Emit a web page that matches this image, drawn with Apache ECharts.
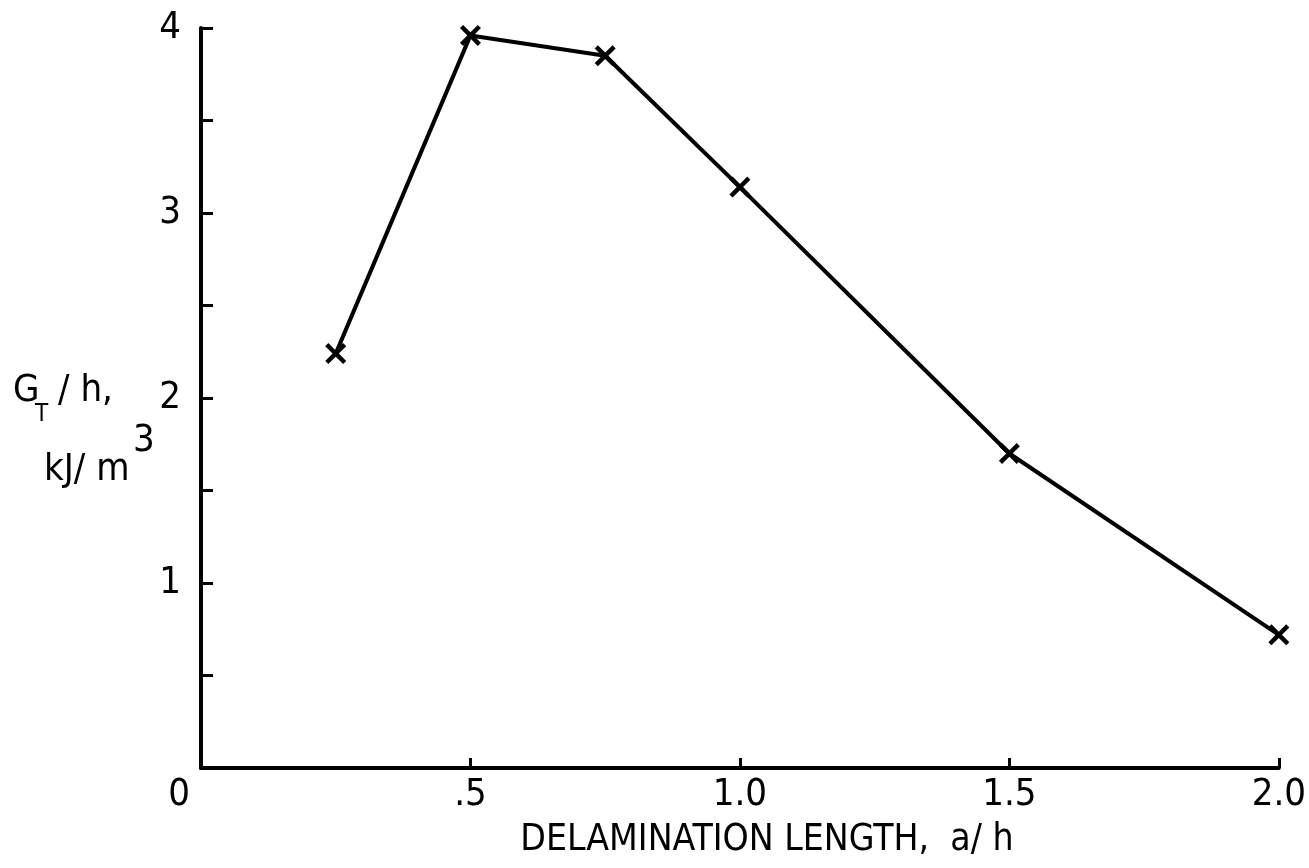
<!DOCTYPE html>
<html>
<head>
<meta charset="utf-8">
<script src="https://cdn.jsdelivr.net/npm/echarts@6/dist/echarts.min.js"></script>
<style>
html,body{margin:0;padding:0;background:#fff;}
#c{width:1309px;height:868px;}
</style>
</head>
<body>
<div id="c"></div>
<script>
const xValues = [0.25, 0.5, 0.75, 1.0, 1.5, 2.0];
const yValues = [2.24, 3.96, 3.85, 3.14, 1.70, 0.72];
const xTickLabels = {0: '0', 0.5: '.5', 1: '1.0', 1.5: '1.5', 2: '2.0'};
const yTickLabels = {1: '1', 2: '2', 3: '3', 4: '4'};
const xTitle = 'DELAMINATION LENGTH,  a/ h';

const FONT = '"Liberation Sans Narrow", "DejaVu Sans Condensed", sans-serif';
const chart = echarts.init(document.getElementById('c'), null, {renderer: 'canvas'});
const xSymbol = 'path://M0,1.5 L1.5,0 L5,3.5 L8.5,0 L10,1.5 L6.5,5 L10,8.5 L8.5,10 L5,6.5 L1.5,10 L0,8.5 L3.5,5 Z';
const txt = (s, size) => ({text: s, fontFamily: FONT, fontSize: size, fill: '#000'});

chart.setOption({
  animation: false,
  backgroundColor: '#ffffff',
  grid: {left: 201, right: 26, top: 28, bottom: 100, containLabel: false},
  xAxis: {
    type: 'value', min: 0, max: 2, interval: 0.5,
    axisLine: {show: true, onZero: false, lineStyle: {color: '#000', width: 4}},
    axisTick: {show: true, inside: true, length: 10, lineStyle: {color: '#000', width: 3}},
    splitLine: {show: false},
    axisLabel: {
      margin: 8, color: '#000', fontFamily: FONT, fontSize: 38,
      formatter: v => {
        const t = xTickLabels[v];
        if (t === undefined) return '';
        return v === 0 ? '{z|' + t + '}' : t;
      },
      rich: {z: {fontFamily: FONT, fontSize: 38, color: '#000', padding: [0, 44, 0, 0]}}
    },
    name: xTitle,
    nameLocation: 'middle',
    nameGap: 54,
    nameTextStyle: {color: '#000', fontFamily: FONT, fontSize: 37, padding: [0, 0, 0, 54]}
  },
  yAxis: {
    type: 'value', min: 0, max: 4, interval: 0.5,
    axisLine: {show: true, onZero: false, lineStyle: {color: '#000', width: 4}},
    axisTick: {show: true, inside: true, length: 12, lineStyle: {color: '#000', width: 3}},
    splitLine: {show: false},
    axisLabel: {
      margin: 20, color: '#000', fontFamily: FONT, fontSize: 38,
      formatter: v => yTickLabels[v] || ''
    }
  },
  graphic: [
    {type: 'text', left: 13, top: 372, style: txt('G', 38)},
    {type: 'text', left: 35, top: 403, style: txt('T', 24)},
    {type: 'text', left: 58, top: 372, style: txt('/ h,', 38)},
    {type: 'text', left: 44, top: 451, style: txt('kJ/ m', 38)},
    {type: 'text', left: 133, top: 422, style: txt('3', 38)}
  ],
  series: [{
    type: 'line',
    data: xValues.map((x, i) => [x, yValues[i]]),
    symbol: xSymbol,
    symbolSize: 21,
    showAllSymbol: true,
    lineStyle: {color: '#000', width: 4},
    itemStyle: {color: '#000'},
    emphasis: {disabled: true}
  }]
});
</script>
</body>
</html>
